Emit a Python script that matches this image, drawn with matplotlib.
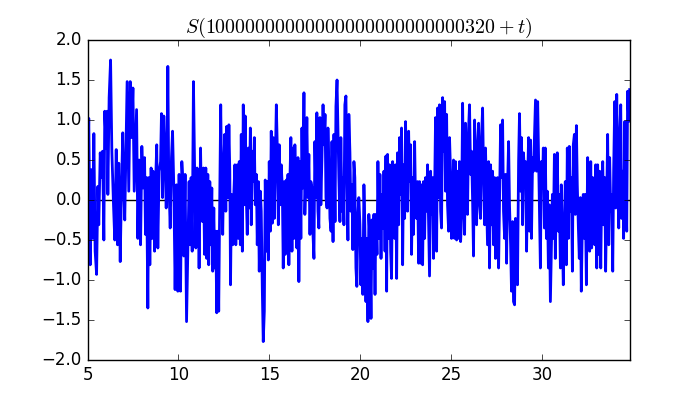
import numpy as np
import matplotlib
matplotlib.use('Agg')
import matplotlib.pyplot as plt

# (t, S) samples, split into three stretches of t
seg_early = [
    (5.00, 0.23), (5.07, 1.02), (5.15, -0.81), (5.22, 0.38), (5.29, -0.48), (5.35, 0.83),
    (5.42, -0.64), (5.50, -0.93), (5.57, 0.17), (5.62, -0.31), (5.70, 0.59), (5.77, 0.28),
    (5.83, 0.61), (5.90, -0.50), (5.95, 1.11), (6.03, 0.65), (6.08, 1.11), (6.12, 0.07),
    (6.19, 1.28), (6.27, 1.75), (6.34, 0.61), (6.43, -0.06), (6.50, -0.50), (6.58, 0.63),
    (6.65, -0.56), (6.72, 0.46), (6.80, -0.77), (6.87, 0.15), (6.94, 0.84), (7.00, 0.11),
    (7.05, -0.25), (7.13, 0.78), (7.18, 1.48), (7.27, 0.11), (7.35, 1.48), (7.42, 0.78),
    (7.50, 1.40), (7.57, 0.11), (7.64, 0.65),
    (7.70, 1.13), (7.77, -0.48), (7.84, 0.50), (7.92, -0.56), (7.99, 0.67), (8.06, 0.15),
    (8.14, 0.53), (8.19, -0.43), (8.25, 0.28), (8.32, -1.35), (8.37, 0.28), (8.43, -0.81),
    (8.50, 0.40), (8.56, -0.48), (8.61, 0.36), (8.69, -0.64), (8.76, 0.32), (8.81, 0.69),
    (8.87, -0.60), (8.94, 0.36), (9.02, 0.48), (9.07, 1.08), (9.13, 0.03), (9.20, 1.05),
    (9.25, 0.78), (9.33, -0.10), (9.38, 0.44), (9.42, 1.67), (9.47, 0.28), (9.55, -0.35),
    (9.62, 0.53), (9.68, 0.86), (9.75, 0.15), (9.82, -1.12), (9.90, 0.19), (9.97, -1.14),
    (10.04, 0.32), (10.12, -1.14), (10.19, 0.48), (10.25, 0.23), (10.30, -0.70), (10.37, 0.32),
    (10.45, -1.52),
    (10.59, 0.23), (10.65, -0.56), (10.70, 0.28), (10.76, -0.64), (10.83, 1.48), (10.90, 0.28),
    (10.96, -0.60), (11.03, 0.40), (11.09, 0.15), (11.14, -0.85), (11.22, 0.65), (11.27, -0.06),
    (11.33, -0.27), (11.38, 0.40), (11.44, -0.68), (11.51, 0.40), (11.56, -0.73), (11.62, 0.32),
    (11.67, -0.81), (11.73, 0.23), (11.78, -0.56), (11.84, 0.15), (11.89, -0.89), (11.95, -0.10),
    (12.00, -0.85), (12.06, -0.39), (12.11, -1.41), (12.17, -0.39), (12.22, -1.39), (12.28, 0.11),
    (12.33, 1.19), (12.39, 0.07), (12.44, -0.43), (12.50, 0.48), (12.55, 0.82), (12.61, -0.14),
    (12.66, 0.92), (12.72, 0.03), (12.78, 0.94), (12.83, 0.36), (12.87, -1.06), (12.92, 0.07),
    (12.99, -0.56), (13.05, 0.07), (13.11, 0.44), (13.16, -0.56),
    (13.24, 0.44), (13.30, -0.48), (13.35, 0.48), (13.41, -0.56), (13.46, 0.82), (13.52, -0.64),
    (13.57, 1.19), (13.63, -0.06), (13.68, 1.05), (13.74, 0.03), (13.79, -0.43), (13.85, 0.65),
    (13.90, -0.10), (13.96, 0.90), (14.01, -0.31), (14.07, 0.61), (14.12, 0.23), (14.18, 0.78),
    (14.23, -0.06), (14.29, 0.32), (14.34, -0.56), (14.40, 0.23), (14.45, -0.89), (14.51, 0.11),
    (14.56, -0.14), (14.62, -1.14), (14.67, -1.77), (14.73, -1.39), (14.78, 0.25), (14.84, -0.64),
    (14.89, 0.23), (14.95, -0.75),
]

seg_middle = [
    (15.00, 0.48), (15.06, -0.39), (15.11, 0.86), (15.17, -0.29), (15.22, 0.78), (15.28, -0.23),
    (15.33, 0.44), (15.39, 1.19), (15.44, 0.69), (15.50, -0.31), (15.55, 0.69), (15.61, -0.06),
    (15.66, 0.44), (15.72, 0.15), (15.77, -0.85), (15.83, 0.23), (15.88, -0.68), (15.94, 0.25),
    (15.99, -0.48),
    (16.03, 0.32), (16.08, -0.81), (16.14, 0.28), (16.19, 0.78), (16.25, -0.64), (16.30, 0.65),
    (16.36, -0.48), (16.41, 0.69), (16.47, -0.06), (16.52, -0.60), (16.58, 0.53), (16.63, -1.02),
    (16.69, 0.48), (16.74, -0.48), (16.80, 0.90), (16.85, 0.15), (16.91, 1.34), (16.96, -0.18),
    (17.02, 0.36), (17.07, 1.03), (17.13, 0.03), (17.18, 0.57), (17.24, -0.43), (17.29, 0.23),
    (17.35, 0.15), (17.40, -0.39), (17.46, -0.73), (17.51, 0.73), (17.57, 0.03), (17.62, 1.09),
    (17.68, -0.14), (17.73, -0.35), (17.79, 1.03), (17.84, -0.06), (17.90, 0.53), (17.96, 1.19),
    (18.01, 0.69), (18.07, 1.07), (18.12, 0.03), (18.18, -0.10), (18.23, 0.90), (18.29, 0.36),
    (18.34, -0.23), (18.40, -0.39), (18.45, 0.73), (18.51, -0.52), (18.56, 0.82), (18.62, -0.27),
    (18.67, 1.17), (18.73, 1.50),
    (18.83, 0.28), (18.89, -0.27), (18.94, 0.78), (19.00, -0.14), (19.05, 0.28), (19.11, -0.31),
    (19.16, 1.19), (19.22, 1.30), (19.27, 0.36), (19.33, -0.50), (19.38, 1.07), (19.44, 0.59),
    (19.49, -0.14), (19.55, 0.19), (19.60, -0.62), (19.66, 0.48), (19.71, 0.28), (19.77, -0.85),
    (19.82, -1.08), (19.88, -0.18), (19.93, 0.03), (19.99, -0.31), (20.04, -1.06), (20.10, -0.48),
    (20.15, -1.18), (20.21, 0.19), (20.26, -0.31), (20.32, -1.27), (20.37, -0.48), (20.43, -1.52),
    (20.48, -0.18), (20.54, -0.48), (20.60, -1.48), (20.65, -0.25), (20.71, -0.85), (20.76, -0.18),
    (20.82, -1.18), (20.87, -0.18), (20.93, -0.68), (20.98, 0.48), (21.04, -0.48), (21.09, 0.32),
    (21.15, -0.73), (21.20, 0.07), (21.26, -0.35), (21.31, 0.36), (21.37, -0.64), (21.42, 0.55),
    (21.46, -1.14),
    (21.51, 0.57), (21.57, -0.48), (21.62, 0.44), (21.68, -0.64), (21.73, -0.98), (21.79, 0.48),
    (21.84, 0.15), (21.90, -0.48), (21.95, 0.44), (22.01, -0.98), (22.06, 0.59), (22.12, -0.31),
    (22.17, 0.78), (22.23, 0.07), (22.28, 0.90), (22.34, -0.81), (22.39, 0.44), (22.45, -0.23),
    (22.50, 0.98), (22.56, 0.23), (22.61, -0.14), (22.67, 0.86), (22.72, 0.23), (22.78, 0.69),
    (22.83, -0.68), (22.89, 0.28), (22.94, -0.43), (23.00, 0.73), (23.05, -0.06), (23.11, -0.23),
    (23.16, 0.23), (23.22, -0.79), (23.27, 0.23), (23.33, -0.79), (23.38, 0.19), (23.44, -0.81),
    (23.49, 0.23), (23.55, -0.48), (23.60, 0.28), (23.66, -0.14), (23.71, 0.44), (23.77, -0.35),
    (23.82, -0.95), (23.88, 0.36), (23.93, -0.18), (23.99, 0.28), (24.04, -0.73), (24.10, 0.11),
    (24.15, 1.03), (24.21, -0.64),
    (24.26, 1.15), (24.32, 0.03), (24.37, 1.19), (24.43, -0.14), (24.48, -0.35), (24.54, 1.28),
    (24.59, 0.61), (24.65, 1.23), (24.70, 0.11), (24.76, 1.07), (24.81, -0.06), (24.87, -0.39),
    (24.92, 0.78), (24.98, 0.32),
]

seg_late = [
    (25.03, -0.48), (25.09, -0.14), (25.14, 0.50), (25.20, -0.48), (25.25, 0.48), (25.31, -0.50),
    (25.36, 0.36), (25.42, -0.48), (25.47, 0.48), (25.53, -0.52), (25.58, -0.23), (25.64, 1.21),
    (25.69, 0.28), (25.75, -0.43), (25.80, 0.96), (25.86, 0.44), (25.91, -0.18), (25.97, 0.90),
    (26.02, 1.19), (26.08, 0.32), (26.13, 0.61), (26.19, -0.02), (26.24, -0.70), (26.30, 1.00),
    (26.35, 0.28), (26.41, -0.31), (26.46, 0.69), (26.52, 0.96), (26.57, -0.06), (26.63, -0.23),
    (26.68, 0.78), (26.74, 1.15), (26.79, 0.36), (26.85, -0.31), (26.90, 0.65),
    (27.01, -0.56), (27.07, 0.48), (27.12, -0.85), (27.18, 0.44), (27.23, -0.31), (27.29, 0.36),
    (27.34, -0.56), (27.40, 0.28), (27.45, -0.73), (27.51, -0.31), (27.56, 0.28), (27.62, -0.85),
    (27.67, -0.06), (27.73, 0.94), (27.78, 0.28), (27.84, 1.00), (27.89, -0.14), (27.95, -0.48),
    (28.00, 0.32), (28.06, -0.79), (28.11, 0.15), (28.17, 0.73), (28.22, -0.06), (28.28, -0.56),
    (28.33, -1.14), (28.39, -0.27), (28.44, -1.27), (28.50, -1.31), (28.55, -0.23), (28.61, -0.56),
    (28.66, -1.06), (28.72, 0.48), (28.77, 1.08), (28.83, 0.11), (28.88, 0.78), (28.94, -0.31),
    (28.99, 0.59), (29.05, 0.28), (29.10, 0.48), (29.16, -0.64), (29.21, 0.19), (29.27, 0.78),
    (29.32, -0.39), (29.38, 0.75), (29.43, -0.48), (29.49, 0.53), (29.54, 0.36), (29.60, 0.82),
    (29.65, 1.25), (29.71, 0.36),
    (29.77, 1.23), (29.86, -0.06), (29.92, -0.85), (29.97, 0.48), (30.03, 0.15), (30.08, 0.65),
    (30.14, -0.35), (30.19, 0.65), (30.25, -0.48), (30.30, 0.11), (30.36, -0.85), (30.41, -0.06),
    (30.47, -1.27), (30.52, -0.64), (30.58, 0.07), (30.63, -0.48), (30.69, 0.57), (30.74, -0.73),
    (30.80, 0.11), (30.85, 0.59), (30.91, -0.39), (30.96, 0.07), (31.02, -0.85), (31.07, 0.19),
    (31.13, -0.48), (31.18, -1.06), (31.24, -0.31), (31.29, 0.23), (31.35, -0.81), (31.40, 0.65),
    (31.46, -0.48), (31.51, 0.67), (31.57, -0.14), (31.62, 0.28), (31.68, -0.89), (31.73, 0.69),
    (31.79, 0.82), (31.84, -0.18), (31.90, 0.93), (31.95, 0.19), (32.01, -0.35), (32.06, -0.73),
    (32.12, 0.03), (32.17, -1.14), (32.23, -0.27), (32.28, 0.07), (32.34, -0.48), (32.39, 0.07),
    (32.45, -1.06), (32.52, 0.53), (32.58, -0.52), (32.63, -0.64), (32.69, 0.48), (32.74, -0.60),
    (32.80, 0.28), (32.85, -0.31), (32.91, -0.56), (32.96, 0.44), (33.02, -0.85), (33.07, 0.44),
    (33.13, -0.68), (33.18, 0.36), (33.24, -0.85), (33.29, 0.07), (33.35, 0.48), (33.40, -0.31),
    (33.46, 0.28), (33.51, -0.89), (33.57, 0.07), (33.62, 0.82), (33.68, -0.56), (33.73, 0.53),
    (33.79, -0.14), (33.84, 0.07), (33.90, -0.89), (33.95, 0.36), (34.01, 1.23), (34.06, -0.10),
    (34.12, 1.32), (34.17, 0.28), (34.23, -0.35), (34.28, 0.82), (34.34, 1.19), (34.39, -0.23),
    (34.45, 0.36), (34.50, -0.48), (34.56, 0.98), (34.61, 0.28), (34.67, -0.39), (34.72, 1.36),
    (34.78, 0.98), (34.83, 1.38),
]

title = r'$S(10000000000000000000000000320+t)$'
t_max = 34.85

#####################################################################################

plt.style.use('classic')

data = np.array(seg_early + seg_middle + seg_late)
t, s = data[:, 0], data[:, 1]

fig, ax = plt.subplots(figsize=(7, 4), dpi=100)
ax.axhline(0, color='k', linewidth=1)
ax.plot(t, s, color='b', linewidth=2)
ax.set_xlim(5, t_max)
ax.set_ylim(-2, 2)
ax.set_title(title)

plt.savefig('out.png', dpi=100)
